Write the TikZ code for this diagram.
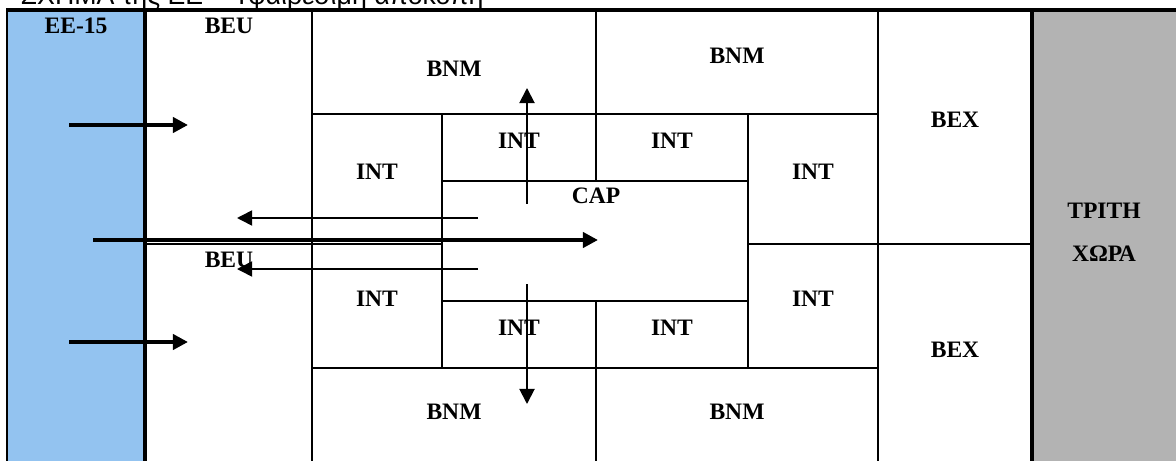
\documentclass[tikz,border=0pt]{standalone}
\usepackage{fontspec}
\setmainfont{Liberation Serif}
\newfontfamily\captionfont{Liberation Sans}
\usepackage{tikz}
\usetikzlibrary{arrows.meta}
\definecolor{eublue}{RGB}{147, 195, 240}
\definecolor{thirdgrey}{RGB}{179, 179, 179}

\begin{document}
\begin{tikzpicture}[
    x=0.01cm, y=-0.01cm,
    >={Triangle[length=4.3pt, width=4.3pt]},
    % Line Styles
    cellline/.style={line width=0.6pt},
    borderline/.style={line width=1.35pt},
    % Text Styles
    lbl/.style={font=\fontsize{6.7}{8}\selectfont\bfseries, inner sep=0pt},
    captiontext/.style={font=\captionfont\fontsize{7.6}{9}\selectfont, inner sep=0pt, anchor=base west},
    % Arrow Styles
    flowarrow/.style={->, line width=1.25pt},
    backarrow/.style={->, line width=0.45pt},
    vertarrow/.style={->, line width=0.55pt}
]
    \useasboundingbox (0,0) rectangle (1176,461);

    % =========================================================================
    % 1. CAPTION (CUT OFF AT THE TOP)
    % =========================================================================
    \begin{scope}
      \clip (0,0) rectangle (1176,9);
      \node[captiontext] (caption) at (20,5) {ΣΧΗΜΑ της ΕΕ – Υφαιρέσιμη αποκοπή};
    \end{scope}

    % =========================================================================
    % 2. OUTER COLUMNS: EE-15 AND THIRD COUNTRY
    % =========================================================================
    \fill[eublue] (7,10) rectangle (145,461);
    \fill[thirdgrey] (1032,10) rectangle (1176,461);
    \draw[cellline] (7,10) -- (7,461);
    \draw[borderline] (145,10) -- (145,461);
    \draw[borderline] (1032,10) -- (1032,461);
    \draw[line width=1.2pt] (6,10) -- (1176,10);

    % =========================================================================
    % 3. GRID OF ZONES
    % =========================================================================
    % vertical lines
    \draw[cellline] (312,10) -- (312,461);
    \draw[cellline] (878,10) -- (878,461);
    \draw[cellline] (442,114) -- (442,368);
    \draw[cellline] (748,114) -- (748,368);
    \draw[cellline] (596,10) -- (596,181);
    \draw[cellline] (596,301) -- (596,461);
    % horizontal lines
    \draw[cellline] (312,114) -- (878,114);
    \draw[cellline] (442,181) -- (748,181);
    \draw[cellline] (442,301) -- (748,301);
    \draw[cellline] (312,368) -- (878,368);
    \draw[cellline] (145,244) -- (442,244);
    \draw[cellline] (748,244) -- (1032,244);

    % =========================================================================
    % 4. ZONE LABELS
    % =========================================================================
    \node[lbl] (ee15)   at (76,26)   {EE-15};
    \node[lbl] (beuTop) at (229,26)  {BEU};
    \node[lbl] (beuBot) at (229,260) {BEU};

    \node[lbl] (bnmTL) at (454,69)  {BNM};
    \node[lbl] (bnmTR) at (737,56)  {BNM};
    \node[lbl] (bnmBL) at (454,412) {BNM};
    \node[lbl] (bnmBR) at (737,412) {BNM};

    \node[lbl] (intUL) at (377,172) {INT};
    \node[lbl] (intUM) at (519,141) {INT};
    \node[lbl] (intUR) at (672,141) {INT};
    \node[lbl] (intUE) at (813,172) {INT};
    \node[lbl] (intLL) at (377,299) {INT};
    \node[lbl] (intLM) at (519,328) {INT};
    \node[lbl] (intLR) at (672,328) {INT};
    \node[lbl] (intLE) at (813,299) {INT};

    \node[lbl] (cap) at (596,196) {CAP};

    \node[lbl] (bexTop) at (955,120) {BEX};
    \node[lbl] (bexBot) at (955,350) {BEX};

    \node[lbl] (triti) at (1104,211) {ΤΡΙΤΗ};
    \node[lbl] (chora) at (1104,254) {ΧΩΡΑ};

    % =========================================================================
    % CONNECTIONS & FLOWS
    % =========================================================================
    \coordinate (inA)   at (69,125);
    \coordinate (outA)  at (188,125);
    \coordinate (inB)   at (69,342);
    \coordinate (outB)  at (188,342);
    \coordinate (inC)   at (93,240);
    \coordinate (capIn) at (598,240);
    \coordinate (capL1) at (478,218);
    \coordinate (beuR1) at (237,218);
    \coordinate (capL2) at (478,269);
    \coordinate (beuR2) at (237,269);
    \coordinate (capU)  at (527,204);
    \coordinate (bnmU)  at (527,88);
    \coordinate (capD)  at (527,284);
    \coordinate (bnmD)  at (527,404);

    % 1. EE-15 -> BEU / CAP
    \draw[flowarrow] (inA) -- (outA);
    \draw[flowarrow] (inB) -- (outB);
    \draw[flowarrow] (inC) -- (capIn);

    % 2. CAP -> BEU
    \draw[backarrow] (capL1) -- (beuR1);
    \draw[backarrow] (capL2) -- (beuR2);

    % 3. CAP -> BNM
    \draw[vertarrow] (capU) -- (bnmU);
    \draw[vertarrow] (capD) -- (bnmD);

\end{tikzpicture}
\end{document}
